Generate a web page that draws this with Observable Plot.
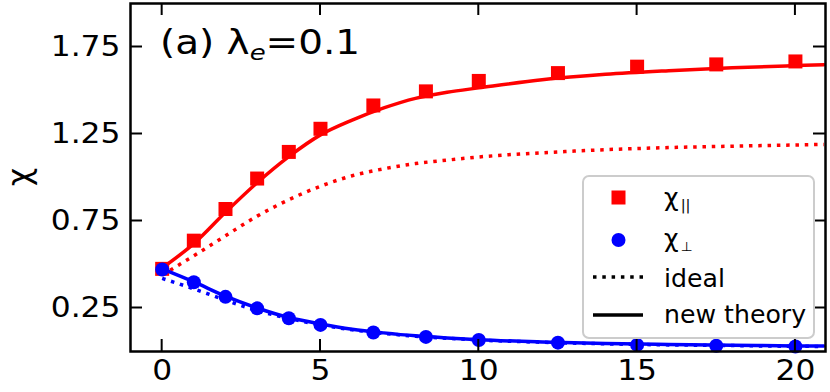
<!DOCTYPE html>
<html><head><meta charset="utf-8">
<script src="https://cdn.jsdelivr.net/npm/d3@7"></script>
<script src="https://cdn.jsdelivr.net/npm/@observablehq/plot@0.6"></script>
<style>html,body{margin:0;padding:0;background:#fff} svg{display:block}</style>
</head><body><div id="chart"></div>
<script>
// ---- data ----
const pointX    = [0, 1, 2, 3, 4, 5, 6.67, 8.33, 10, 12.5, 15, 17.5, 20];
const chiPar    = [0.475, 0.637, 0.819, 0.994, 1.147, 1.28, 1.414, 1.495, 1.555, 1.60, 1.637, 1.65, 1.667];
const chiPerp   = [0.471, 0.398, 0.314, 0.248, 0.191, 0.153, 0.109, 0.084, 0.066, 0.051, 0.038, 0.033, 0.029];
const curveX    = [0, 1, 2, 3, 4, 5, 6, 7, 8, 9, 10, 12, 14, 16, 18, 20, 20.9];
const parTheory = [0.48, 0.62, 0.80, 0.97, 1.12, 1.245, 1.33, 1.40, 1.455, 1.49, 1.515, 1.562, 1.593, 1.614, 1.631, 1.643, 1.648];
const parIdeal  = [0.44, 0.55, 0.665, 0.778, 0.872, 0.95, 1.01, 1.05, 1.08, 1.10, 1.118, 1.142, 1.16, 1.172, 1.18, 1.187, 1.19];
const perpTheory= [0.475, 0.40, 0.318, 0.25, 0.195, 0.158, 0.128, 0.107, 0.09, 0.078, 0.068, 0.055, 0.046, 0.04, 0.036, 0.032, 0.031];
const perpIdeal = [0.42, 0.36, 0.295, 0.235, 0.19, 0.153, 0.125, 0.104, 0.088, 0.076, 0.066, 0.053, 0.044, 0.038, 0.034, 0.03, 0.029];
const xTicks = [0, 5, 10, 15, 20];
const yTicks = [0.25, 0.75, 1.25, 1.75];
const yLabel = "χ";
const legendLabels = ["χ", "||", "χ", "⊥", "ideal", "new theory"];

(function draw() {
const W = 830, H = 392, mL = 130, mR = 5, mT = 3, mB = 41;
const FONT = "DejaVu Sans";
const dotted = "3.5,5.8";

const plot = Plot.plot({
  width: W, height: H,
  marginLeft: mL, marginRight: mR, marginTop: mT, marginBottom: mB,
  x: {domain: [-1, 20.95]},
  y: {domain: [0, 2]},
  style: {fontFamily: FONT, background: "white", color: "black"},
  marks: [
    Plot.dot(chiPar, {x: pointX, y: chiPar, symbol: "square", r: 7.9, fill: "#ff0000", stroke: "none"}),
    Plot.line(parTheory, {x: curveX, y: parTheory, stroke: "#ff0000", strokeWidth: 3.5, curve: "monotone-x"}),
    Plot.line(parIdeal, {x: curveX, y: parIdeal, stroke: "#ff0000", strokeWidth: 3.5, strokeDasharray: dotted, strokeLinecap: "butt", curve: "monotone-x"}),
    Plot.dot(chiPerp, {x: pointX, y: chiPerp, symbol: "circle", r: 7, fill: "#0000ff", stroke: "none"}),
    Plot.line(perpTheory, {x: curveX, y: perpTheory, stroke: "#0000ff", strokeWidth: 3.5, curve: "monotone-x"}),
    Plot.line(perpIdeal, {x: curveX, y: perpIdeal, stroke: "#0000ff", strokeWidth: 3.5, strokeDasharray: dotted, strokeLinecap: "butt", curve: "monotone-x"}),
    Plot.frame({stroke: "black", strokeWidth: 2.5}),
    Plot.axisX(xTicks, {anchor: "bottom", tickSize: 0, tickPadding: 9, fontSize: 28, label: null, tickFormat: d => String(d)}),
    Plot.axisY(yTicks, {anchor: "left", tickSize: 0, tickPadding: 10, fontSize: 28, label: null, tickFormat: d => d.toFixed(2)})
  ]
});
document.getElementById("chart").appendChild(plot);

const svg = d3.select(plot);
svg.selectAll("text").each(function() {
  const t = this.getAttribute("transform") || "";
  this.setAttribute("transform", t + " scale(1.12,1)");
});

const sx = plot.scale("x"), sy = plot.scale("y");
const fl = mL, fr = W - mR, ft = mT, fb = H - mB, tl = 12;
const tg = svg.append("g").attr("stroke", "black").attr("stroke-width", 2);
for (const t of xTicks) {
  const px = sx.apply(t);
  tg.append("line").attr("x1", px).attr("x2", px).attr("y1", fb).attr("y2", fb - tl);
  tg.append("line").attr("x1", px).attr("x2", px).attr("y1", ft).attr("y2", ft + tl);
}
for (const t of yTicks) {
  const py = sy.apply(t);
  tg.append("line").attr("y1", py).attr("y2", py).attr("x1", fl).attr("x2", fl + tl);
  tg.append("line").attr("y1", py).attr("y2", py).attr("x1", fr).attr("x2", fr - tl);
}

svg.append("text").attr("transform", "translate(30,177) rotate(-90)")
  .attr("text-anchor", "middle").attr("font-family", FONT).attr("font-size", 32).attr("fill", "black").text(yLabel);

const title = svg.append("text").attr("transform", "translate(160,54) scale(1.18,1)")
  .attr("text-anchor", "start").attr("font-family", FONT).attr("font-size", 33).attr("fill", "black");
title.append("tspan").text("(a) λ");
title.append("tspan").attr("font-size", 22).attr("font-style", "italic").attr("dy", 6).text("e");
title.append("tspan").attr("dy", -6).text("=0.1");

const lg = svg.append("g");
lg.append("rect").attr("x", 583).attr("y", 176).attr("width", 231).attr("height", 162).attr("rx", 6)
  .attr("fill", "white").attr("fill-opacity", 0.8).attr("stroke", "#cccccc").attr("stroke-width", 2);
lg.append("rect").attr("x", 618.5 - 7).attr("y", 197.5 - 7).attr("width", 14).attr("height", 14).attr("fill", "#ff0000");
lg.append("circle").attr("cx", 618.5).attr("cy", 240).attr("r", 7).attr("fill", "#0000ff");
lg.append("line").attr("x1", 593).attr("x2", 643).attr("y1", 277).attr("y2", 277).attr("stroke", "black").attr("stroke-width", 3.5).attr("stroke-dasharray", dotted);
lg.append("line").attr("x1", 593).attr("x2", 643).attr("y1", 315).attr("y2", 315).attr("stroke", "black").attr("stroke-width", 3.5);
function legText(y, main, sub, subSize, subDy) {
  const t = lg.append("text").attr("transform", `translate(664,${y}) scale(1.05,1)`)
    .attr("text-anchor", "start").attr("font-family", FONT).attr("font-size", 24).attr("fill", "black");
  t.append("tspan").text(main);
  if (sub) t.append("tspan").attr("font-size", subSize).attr("dy", subDy).attr("dx", 2).text(sub);
}
legText(206, legendLabels[0], legendLabels[1], 14, 4);
legText(247, legendLabels[2], legendLabels[3], 13, 4);
legText(287, legendLabels[4]);
legText(323, legendLabels[5]);
})();
</script>
</body></html>
